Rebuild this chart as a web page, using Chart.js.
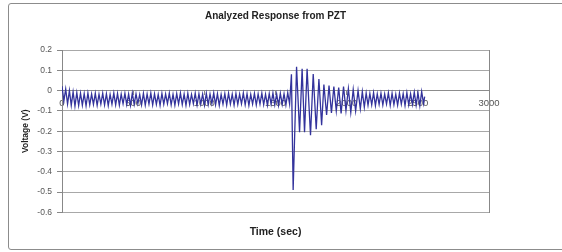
<!DOCTYPE html>
<html>
<head>
<meta charset="utf-8">
<script src="https://cdn.jsdelivr.net/npm/chart.js@4"></script>
<style>
  body { margin: 0; background: #fff; }
  .wrap { position: relative; width: 562px; height: 252px; overflow: hidden; }
  .frame { position: absolute; left: 8px; top: 3px; width: 560px; height: 245px; border: 1px solid #8c8c8c; border-radius: 3px; pointer-events: none; }
  canvas { position: absolute; left: 0; top: 0; }
</style>
</head>
<body>
<div class="wrap">
  <canvas id="pztChart" width="562" height="252"></canvas>
  <div class="frame"></div>
</div>
<script>
// Time (sec) of each read point
const timeSec = [
  0, 13, 26, 39, 52, 65, 78, 91, 104, 117, 130, 143, 156, 169, 182, 195, 208, 221, 234, 247,
  260, 273, 286, 299, 312, 325, 338, 351, 364, 377, 390, 403, 416, 429, 442, 455, 468, 481, 494, 507,
  520, 533, 546, 559, 572, 585, 598, 611, 624, 637, 650, 663, 676, 689, 702, 715, 728, 741, 754, 767,
  780, 793, 806, 819, 832, 845, 858, 871, 884, 897, 910, 923, 936, 949, 962, 975, 988, 1001, 1014, 1027,
  1040, 1053, 1066, 1079, 1092, 1105, 1118, 1131, 1144, 1157, 1170, 1183, 1196, 1209, 1222, 1235, 1248, 1261, 1274, 1287,
  1300, 1313, 1326, 1339, 1352, 1365, 1378, 1391, 1404, 1417, 1430, 1443, 1456, 1469, 1482, 1495, 1508, 1521, 1534, 1547,
  1560, 1573, 1586, 1599,
  1612, 1624, 1648, 1669, 1687, 1704, 1722, 1746, 1765, 1786, 1805, 1824, 1840, 1859,
  1876, 1893, 1910, 1927, 1944, 1961, 1978, 1995, 2012, 2029, 2046, 2063, 2080, 2096, 2110, 2124,
  2137, 2150, 2163, 2176, 2189, 2202, 2215, 2228, 2241, 2254, 2267, 2280, 2293, 2306, 2319, 2332,
  2345, 2358, 2371, 2384, 2397, 2410, 2423, 2436, 2449, 2462, 2475, 2488, 2501, 2514, 2527, 2540, 2548
]

// Voltage (V)
const voltage = [
  0.022, -0.052, 0.008, -0.066, 0.000, -0.073, -0.006, -0.076, -0.010, -0.074, -0.013, -0.072, -0.015, -0.075, -0.012, -0.070, -0.017, -0.068, -0.014, -0.073,
  -0.018, -0.066, -0.013, -0.071, -0.016, -0.074, -0.019, -0.067, -0.012, -0.070, -0.015, -0.072, -0.018, -0.065, -0.014, -0.069, -0.017, -0.073, -0.013, -0.068,
  -0.016, -0.064, -0.019, -0.070, -0.014, -0.072, -0.017, -0.066, -0.012, -0.071, -0.016, -0.068, -0.019, -0.073, -0.014, -0.067, -0.017, -0.064, -0.013, -0.070,
  -0.018, -0.072, -0.015, -0.066, -0.012, -0.069, -0.017, -0.073, -0.014, -0.068, -0.019, -0.065, -0.013, -0.071, -0.016, -0.067, -0.018, -0.072, -0.014, -0.069,
  -0.017, -0.064, -0.012, -0.070, -0.016, -0.073, -0.019, -0.067, -0.015, -0.071, -0.013, -0.066, -0.018, -0.072, -0.014, -0.068, -0.017, -0.065, -0.012, -0.070,
  -0.016, -0.073, -0.019, -0.067, -0.014, -0.071, -0.017, -0.066, -0.013, -0.069, -0.018, -0.072, -0.015, -0.067, -0.012, -0.070, -0.017, -0.073, -0.014, -0.068,
  -0.016, -0.071, -0.010, -0.066,
  0.080, -0.490, 0.117, -0.205, 0.107, -0.205, 0.107, -0.220, 0.082, -0.190, 0.057, -0.170, 0.030, -0.120,
  0.025, -0.110, 0.020, -0.100, 0.015, -0.112, 0.020, -0.098, 0.010, -0.108, 0.005, -0.100, 0.000, -0.090, -0.005, -0.082,
  -0.012, -0.072, -0.015, -0.070, -0.010, -0.074, -0.016, -0.068, -0.013, -0.071, -0.017, -0.066, -0.011, -0.073, -0.014, -0.069,
  -0.018, -0.072, -0.012, -0.067, -0.015, -0.074, -0.010, -0.070, -0.016, -0.068, -0.008, -0.072, -0.012, -0.075, -0.005, -0.064, -0.030
]

const yTicks = [0.2, 0.1, 0, -0.1, -0.2, -0.3, -0.4, -0.5, -0.6]
const xTicks = [0, 500, 1000, 1500, 2000, 2500, 3000]

const fontFamily = '"Liberation Sans", Arial, sans-serif'
const points = timeSec.map((t, i) => ({ x: t, y: voltage[i] }))

new Chart(document.getElementById('pztChart').getContext('2d'), {
  type: 'line',
  data: {
    datasets: [
      {
        label: 'Voltage',
        data: points,
        borderColor: '#33339c',
        borderWidth: 1.3,
        pointRadius: 0,
        tension: 0,
        fill: false
      }
    ]
  },
  options: {
    responsive: false,
    animation: false,
    devicePixelRatio: 1,
    layout: {
      padding: { left: 8, right: 73, top: 0, bottom: 0 }
    },
    scales: {
      x: {
        type: 'linear',
        position: { y: 0 },
        min: xTicks[0],
        max: xTicks[xTicks.length - 1],
        afterBuildTicks: (scale) => {
          scale.ticks = xTicks.map((v) => ({ value: v }))
        },
        ticks: {
          color: '#555',
          font: { family: fontFamily, size: 9.5 },
          padding: 3,
          maxRotation: 0,
          callback: (v) => String(v)
        },
        grid: {
          drawOnChartArea: false,
          tickLength: 4,
          tickColor: '#888'
        },
        border: { color: '#8c8c8c' }
      },
      y: {
        min: -0.6,
        max: 0.2,
        afterBuildTicks: (scale) => {
          scale.ticks = yTicks.map((v) => ({ value: v }))
        },
        afterFit: (scale) => {
          scale.width = 54
        },
        ticks: {
          color: '#555',
          font: { family: fontFamily, size: 8.5 },
          padding: 5,
          callback: (v) => String(Math.round(v * 10) / 10)
        },
        grid: {
          color: '#a8a8a8',
          tickLength: 5,
          tickColor: '#888'
        },
        border: { color: '#888' },
        title: {
          display: true,
          text: 'Voltage (V)',
          color: '#222',
          font: { family: fontFamily, size: 8.5, weight: 'bold' },
          padding: { top: 13, bottom: 0 }
        }
      },
      yFrame: {
        position: 'right',
        min: -0.6,
        max: 0.2,
        afterFit: (scale) => {
          scale.width = 0
        },
        ticks: { display: false },
        grid: { drawOnChartArea: false, drawTicks: false },
        border: { color: '#888' }
      }
    },
    plugins: {
      legend: { display: false },
      tooltip: { enabled: false },
      title: {
        display: true,
        text: 'Analyzed Response from PZT',
        color: '#222',
        fullSize: false,
        font: { family: fontFamily, size: 10, weight: 'bold' },
        padding: { top: 10, bottom: 28 }
      },
      subtitle: {
        display: true,
        position: 'bottom',
        text: 'Time (sec)',
        color: '#222',
        fullSize: false,
        font: { family: fontFamily, size: 10.5, weight: 'bold' },
        padding: { top: 13, bottom: 14 }
      }
    }
  }
})
</script>
</body>
</html>
